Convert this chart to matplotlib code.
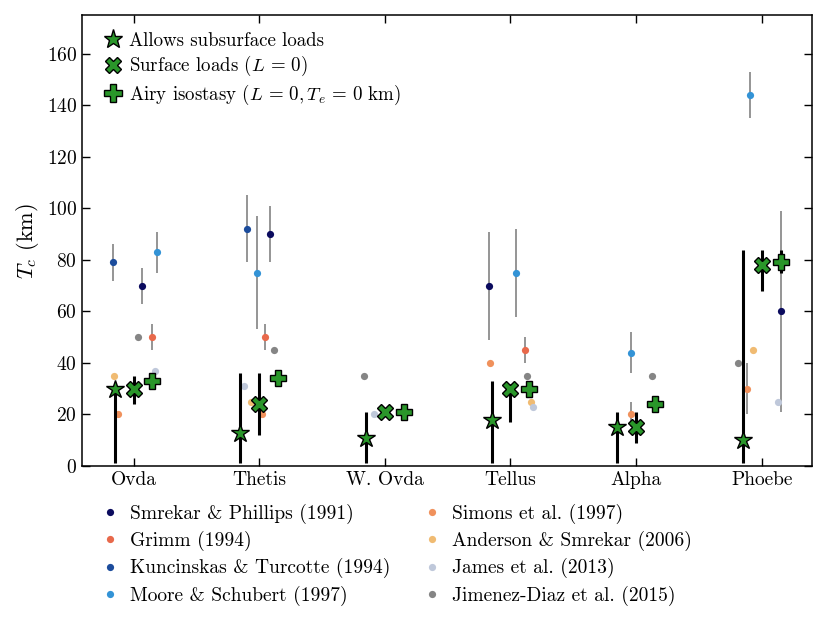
import numpy as np
import matplotlib
matplotlib.use('Agg')
import matplotlib.pyplot as plt
from matplotlib.lines import Line2D

plt.rcParams['font.family'] = 'serif'
plt.rcParams['font.serif'] = ['cmr10', 'DejaVu Serif']
plt.rcParams['mathtext.fontset'] = 'cm'
plt.rcParams['axes.formatter.use_mathtext'] = True

# ---------- 数据 ----------
regions = ['Ovda', 'Thetis', 'W. Ovda', 'Tellus', 'Alpha', 'Phoebe']

# model results (km): value, lower, upper
subsurf = [30, 13, 11, 18, 15, 10]
subsurf_lo = [1, 1, 1, 1, 1, 1]
subsurf_hi = [32, 36, 21, 33, 21, 84]

surface = [30, 24, 21, 30, 15, 78]
surface_lo = [24, 12, 21, 17, 9, 68]
surface_hi = [35, 36, 21, 32, 21, 84]

airy = [33, 34, 21, 30, 24, 79]
airy_lo = [33, 34, 21, 30, 24, 75]
airy_hi = [33, 34, 21, 30, 24, 84]

# literature estimates per region (None = no estimate), symmetric error
studies = ['Smrekar & Phillips (1991)', 'Grimm (1994)', 'Kuncinskas & Turcotte (1994)',
           'Moore & Schubert (1997)', 'Simons et al. (1997)', 'Anderson & Smrekar (2006)',
           'James et al. (2013)', 'Jimenez-Diaz et al. (2015)']
colors = ['#0b0b5e', '#e8694b', '#1c4c9c', '#3393d6', '#f0915c', '#f0bb72', '#bfc8da', '#858585']

smrekar = [70, 90, None, 70, None, 60]
smrekar_err = [7, 11, 0, 21, 0, 39]
grimm = [50, 50, None, 45, None, None]
grimm_err = [5, 5, 0, 5, 0, 0]
kuncinskas = [79, 92, None, None, None, None]
kuncinskas_err = [7, 13, 0, 0, 0, 0]
moore = [83, 75, None, 75, 44, 144]
moore_err = [8, 22, 0, 17, 8, 9]
simons = [20, 20, None, 40, 20, 30]
simons_err = [0, 0, 0, 0, 5, 10]
anderson = [35, 25, None, 25, None, 45]
anderson_err = [0, 0, 0, 0, 0, 0]
james = [37, 31, 20, 23, None, 25]
james_err = [0, 0, 0, 0, 0, 0]
jimenez = [50, 45, 35, 35, 35, 40]
jimenez_err = [0, 0, 0, 0, 0, 0]

study_vals = [smrekar, grimm, kuncinskas, moore, simons, anderson, james, jimenez]
study_errs = [smrekar_err, grimm_err, kuncinskas_err, moore_err, simons_err,
              anderson_err, james_err, jimenez_err]

# horizontal jitter of each estimate inside its region
study_dx = [
    [0.066, 0.085, 0, -0.167, 0, 0.151],
    [0.149, 0.045, 0, 0.114, 0, 0],
    [-0.165, -0.098, 0, 0, 0, 0],
    [0.186, -0.018, 0, 0.045, -0.042, -0.09],
    [-0.125, 0.026, 0, -0.162, -0.04, -0.12],
    [-0.159, -0.061, 0, 0.16, 0, -0.069],
    [0.17, -0.12, -0.085, 0.183, 0, 0.133],
    [0.034, 0.122, -0.162, 0.13, 0.127, -0.186],
]

GREEN = '#2a962a'

fig = plt.figure(figsize=(8.3, 6.31), dpi=100)
ax = fig.add_axes([0.0988, 0.2615, 0.8795, 0.7145])

x = np.arange(len(regions))

# ---------- literature points ----------
for vals, errs, dxs, c in zip(study_vals, study_errs, study_dx, colors):
    for i, (v, e, d) in enumerate(zip(vals, errs, dxs)):
        if v is None:
            continue
        if e > 0:
            ax.errorbar(x[i] + d, v, yerr=e, fmt='none', ecolor='#8c8c8c',
                        elinewidth=1.3, zorder=2)
        ax.plot(x[i] + d, v, 'o', color=c, ms=5.2, mec='none', zorder=3)

# ---------- model results ----------
def model_series(xs, vals, lo, hi, marker, ms):
    vals = np.array(vals, float)
    yerr = [vals - np.array(lo), np.array(hi) - vals]
    ax.errorbar(xs, vals, yerr=yerr, fmt='none', ecolor='black', elinewidth=2.2, zorder=4)
    ax.plot(xs, vals, marker, ls='none', color=GREEN, mec='black', mew=1.0, ms=ms, zorder=5)

model_series(x - 0.15, subsurf, subsurf_lo, subsurf_hi, '*', 13.5)
model_series(x, surface, surface_lo, surface_hi, 'X', 12)
model_series(x + 0.15, airy, airy_lo, airy_hi, 'P', 12)

ax.set_xlim(-0.41, 5.4)
ax.set_ylim(0, 175)
ax.set_xticks(x)
ax.set_xticklabels(regions)
ax.set_yticks(np.arange(0, 161, 20))
ax.set_ylabel(r'$T_c$ (km)', fontsize=16)
ax.tick_params(direction='in', top=True, right=True, labelsize=14, length=6, width=1)
for s in ax.spines.values():
    s.set_linewidth(1.1)

# top-left legend for models
h_models = [
    Line2D([], [], marker='*', ls='none', color=GREEN, mec='black', mew=1.0, ms=14),
    Line2D([], [], marker='X', ls='none', color=GREEN, mec='black', mew=1.0, ms=12),
    Line2D([], [], marker='P', ls='none', color=GREEN, mec='black', mew=1.0, ms=12.5),
]
ax.legend(h_models, ['Allows subsurface loads', r'Surface loads ($L\,=\,0$)',
                     r'Airy isostasy ($L\,=\,0, T_e\,=\,0$ km)'],
          loc='upper left', frameon=False, fontsize=13.6, handletextpad=0.1,
          handlelength=1.5, labelspacing=0.22, borderaxespad=0.5)

# bottom legend for literature
h_lit = [Line2D([], [], marker='o', ls='none', color=c, ms=5.2, mec='none') for c in colors]
fig.legend(h_lit, studies,
           loc='upper left', bbox_to_anchor=(0.111, 0.2135), ncol=2, frameon=False,
           fontsize=14, handlelength=1.0, handletextpad=0.53, labelspacing=0.36,
           columnspacing=1.67, borderaxespad=0)

fig.savefig('out.png', dpi=100)
